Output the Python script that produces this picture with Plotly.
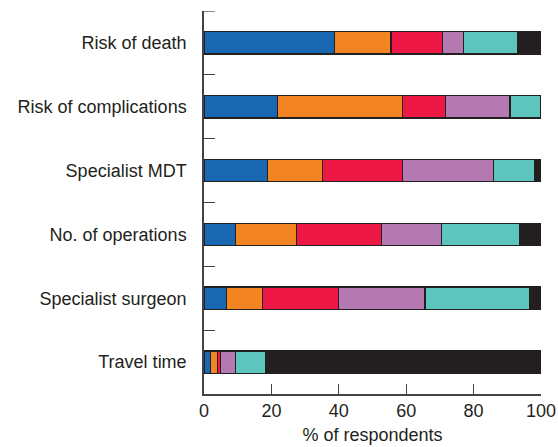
import plotly.graph_objects as go

# Survey factors, listed bottom to top
factors = ["Travel time", "Specialist surgeon", "No. of operations",
           "Specialist MDT", "Risk of complications", "Risk of death"]

# Percentage of respondents for each rank (rank 1 .. rank 6), per factor
rank1 = [2.0, 6.7, 9.4, 18.9, 21.8, 38.7]
rank2 = [2.0, 10.7, 18.1, 16.3, 37.1, 16.8]
rank3 = [0.9, 22.5, 25.2, 23.7, 12.8, 15.3]
rank4 = [4.5, 25.7, 17.8, 27.0, 19.1, 6.1]
rank5 = [8.9, 30.9, 23.0, 12.1, 9.2, 16.3]
rank6 = [81.7, 3.5, 6.5, 2.0, 0.0, 6.8]

series = [rank1, rank2, rank3, rank4, rank5, rank6]
colors = ["#1a67b1", "#f28522", "#ee1846", "#b479b1", "#5cc5bc", "#231f20"]

ink = "#231f20"
axis_col = "#444"
fig = go.Figure()
for vals, col in zip(series, colors):
    fig.add_trace(go.Bar(
        x=vals, y=factors, orientation="h", width=0.35,
        marker=dict(color=col, line=dict(color=ink, width=1.2)),
        showlegend=False, hoverinfo="x+y",
    ))

# tick at the top end of the category axis
fig.add_shape(type="line", xref="x", yref="y", x0=0, x1=3.2, y0=5.5, y1=5.5,
              line=dict(color=axis_col, width=1.3))

fig.update_layout(
    barmode="stack",
    width=558, height=447,
    margin=dict(l=204, r=17, t=11, b=53),
    paper_bgcolor="white", plot_bgcolor="white",
    font=dict(family="Liberation Sans, Arial, sans-serif", size=18, color=ink),
    xaxis=dict(
        range=[0, 100], tickvals=[0, 20, 40, 60, 80, 100],
        ticks="inside", ticklen=10, tickwidth=1.3, tickcolor=axis_col,
        showline=True, linecolor=axis_col, linewidth=1.5,
        showgrid=False, zeroline=False, automargin=False,
        title=dict(text="% of respondents", font=dict(size=18), standoff=8),
    ),
    yaxis=dict(
        categoryorder="array", categoryarray=factors,
        range=[-0.5, 5.5], automargin=False,
        tickson="boundaries", ticks="inside", ticklen=11, tickwidth=1.3,
        tickcolor=axis_col,
        showline=True, linecolor=axis_col, linewidth=1.5,
        showgrid=False, zeroline=False,
        ticklabelstandoff=12,
    ),
)

fig.write_html("out.html")
